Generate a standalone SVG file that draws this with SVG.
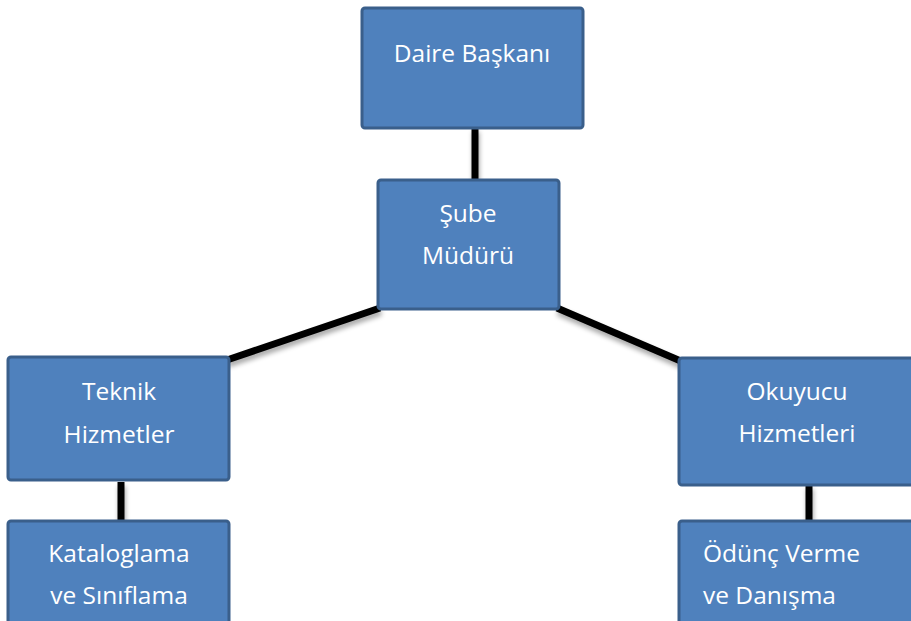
<svg xmlns="http://www.w3.org/2000/svg" width="911" height="621" viewBox="0 0 911 621">
<defs>
<filter id="sh" x="-20%" y="-20%" width="140%" height="160%">
<feGaussianBlur in="SourceAlpha" stdDeviation="2.5"/>
<feOffset dx="1" dy="4" result="b"/>
<feComponentTransfer><feFuncA type="linear" slope="0.35"/></feComponentTransfer>
<feMerge><feMergeNode/><feMergeNode in="SourceGraphic"/></feMerge>
</filter>
<style>
.box{fill:#4f81bd;stroke:#3a5f8b;stroke-width:3}
.t{font-family:"Open Sans","Noto Sans",sans-serif;font-size:24.5px;fill:#ffffff;text-anchor:middle}
.tl{text-anchor:start}
.c{stroke:#000;stroke-width:7;fill:none}
</style>
</defs>
<rect width="911" height="621" fill="#ffffff"/>
<g id="connectors" filter="url(#sh)">
<line class="c" x1="475" y1="128" x2="475" y2="180"/>
<line class="c" x1="227" y1="360" x2="380" y2="308"/>
<line class="c" x1="557" y1="308" x2="683" y2="362"/>
<line class="c" x1="121" y1="482" x2="121" y2="522"/>
<line class="c" x1="809" y1="485" x2="809" y2="522"/>
</g>
<g id="daire">
<rect class="box" x="362" y="8" width="221" height="120" rx="3"/>
<text class="t" x="472" y="62">Daire Başkanı</text>
</g>
<g id="sube">
<rect class="box" x="378" y="180" width="181" height="129" rx="3"/>
<text class="t" x="468" y="222">Şube</text>
<text class="t" x="468" y="264">Müdürü</text>
</g>
<g id="teknik">
<rect class="box" x="8" y="357" width="221" height="123" rx="3"/>
<text class="t" x="119" y="400">Teknik</text>
<text class="t" x="119" y="443">Hizmetler</text>
</g>
<g id="okuyucu">
<rect class="box" x="679" y="358" width="240" height="127" rx="3"/>
<text class="t" x="797" y="400">Okuyucu</text>
<text class="t" x="797" y="442">Hizmetleri</text>
</g>
<g id="kataloglama">
<rect class="box" x="8" y="521" width="221" height="110" rx="3"/>
<text class="t" x="119" y="562">Kataloglama</text>
<text class="t" x="119" y="604">ve Sınıflama</text>
</g>
<g id="odunc">
<rect class="box" x="679" y="521" width="240" height="110" rx="3"/>
<text class="t tl" x="703" y="562">Ödünç Verme</text>
<text class="t tl" x="703" y="604">ve Danışma</text>
</g>
</svg>
